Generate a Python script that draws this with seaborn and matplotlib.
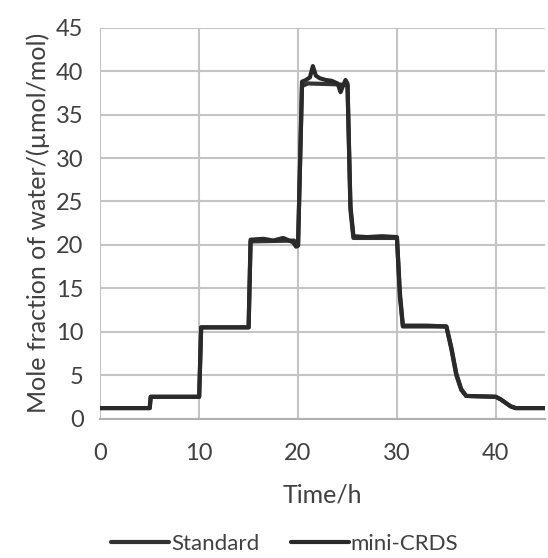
import numpy as np
import pandas as pd
import matplotlib
matplotlib.use("Agg")
import matplotlib.pyplot as plt
import seaborn as sns

# Standard series (time in h, mole fraction in umol/mol)
std_time = [0, 5.0, 5.1, 10.0, 10.2, 15.0, 15.2, 19.6, 20.0, 20.4, 21.0, 24.0, 25.0,
            25.3, 25.6, 30.0, 30.3, 30.6, 35.0, 35.5, 36.0, 36.5, 37.0, 40.0, 40.5,
            41.0, 41.5, 42.0, 45.0]
std_value = [1.2, 1.2, 2.5, 2.5, 10.5, 10.5, 20.4, 20.5, 20.0, 38.3, 38.6, 38.5, 38.4,
             24.0, 20.8, 20.8, 14.0, 10.6, 10.6, 8.0, 5.0, 3.3, 2.6, 2.5, 2.2,
             1.8, 1.4, 1.2, 1.2]

# mini-CRDS series
crds_time = [0, 5.0, 5.1, 10.0, 10.2, 15.0, 15.2, 16.5, 17.5, 18.5, 19.5, 19.8, 20.0,
             20.4, 20.8, 21.2, 21.5, 21.8, 22.2, 22.8, 23.4, 24.0, 24.3, 24.5, 24.8,
             25.0, 25.3, 25.6, 27.0, 28.5, 30.0, 30.3, 30.6, 33.0, 35.0, 35.5, 36.0,
             36.5, 37.0, 40.0, 40.5, 41.0, 41.5, 42.0, 45.0]
crds_value = [1.2, 1.2, 2.5, 2.5, 10.5, 10.5, 20.6, 20.7, 20.5, 20.8, 20.3, 19.8, 19.9,
              38.8, 39.0, 39.3, 40.6, 39.5, 39.2, 39.0, 38.9, 38.6, 37.6, 38.2, 39.0,
              38.6, 24.5, 21.0, 20.9, 21.0, 20.9, 14.5, 10.7, 10.7, 10.6, 8.2, 5.2,
              3.4, 2.6, 2.5, 2.2, 1.8, 1.4, 1.2, 1.2]

sns.set_style("white")
plt.rcParams['font.family'] = ['Lato', 'DejaVu Sans']

df = pd.concat([
    pd.DataFrame({'time': std_time, 'value': std_value, 'series': 'Standard'}),
    pd.DataFrame({'time': crds_time, 'value': crds_value, 'series': 'mini-CRDS'}),
])

fig = plt.figure(figsize=(5.48, 5.58), dpi=100)
ax = fig.add_axes([0.183, 0.25, 0.812, 0.70])

sns.lineplot(data=df, x='time', y='value', hue='series', sort=False,
             palette={'Standard': '#333333', 'mini-CRDS': '#2a2a2a'},
             linewidth=3, ax=ax, legend=False)

ax.set_xlim(0, 45)
ax.set_ylim(0, 45)
ax.set_xticks([0, 10, 20, 30, 40])
ax.set_yticks(np.arange(0, 46, 5))
ax.grid(True, color='#c4c4c4', linewidth=1.5)
ax.set_axisbelow(True)
for side in ['top', 'right', 'left']:
    ax.spines[side].set_visible(False)
ax.spines['bottom'].set_color('#b0b0b0')
ax.spines['bottom'].set_linewidth(1.5)
ax.tick_params(axis='both', length=0, labelsize=17, colors='#404040')
ax.tick_params(axis='x', pad=18)
ax.tick_params(axis='y', pad=12)
ax.set_xlabel('Time/h', fontsize=18, color='#404040', labelpad=14)
ax.set_ylabel('Mole fraction of water/(µmol/mol)', fontsize=18, color='#404040', labelpad=4)

handles = [plt.Line2D([0], [0], color='#333333', lw=3),
           plt.Line2D([0], [0], color='#2a2a2a', lw=3)]
fig.legend(handles, ['Standard', 'mini-CRDS'], loc='lower center',
           bbox_to_anchor=(0.52, -0.028), ncol=2, frameon=False, fontsize=16,
           handlelength=2.6, handletextpad=0.1, columnspacing=1.4,
           labelcolor='#404040')

fig.savefig('out.png', dpi=100)
